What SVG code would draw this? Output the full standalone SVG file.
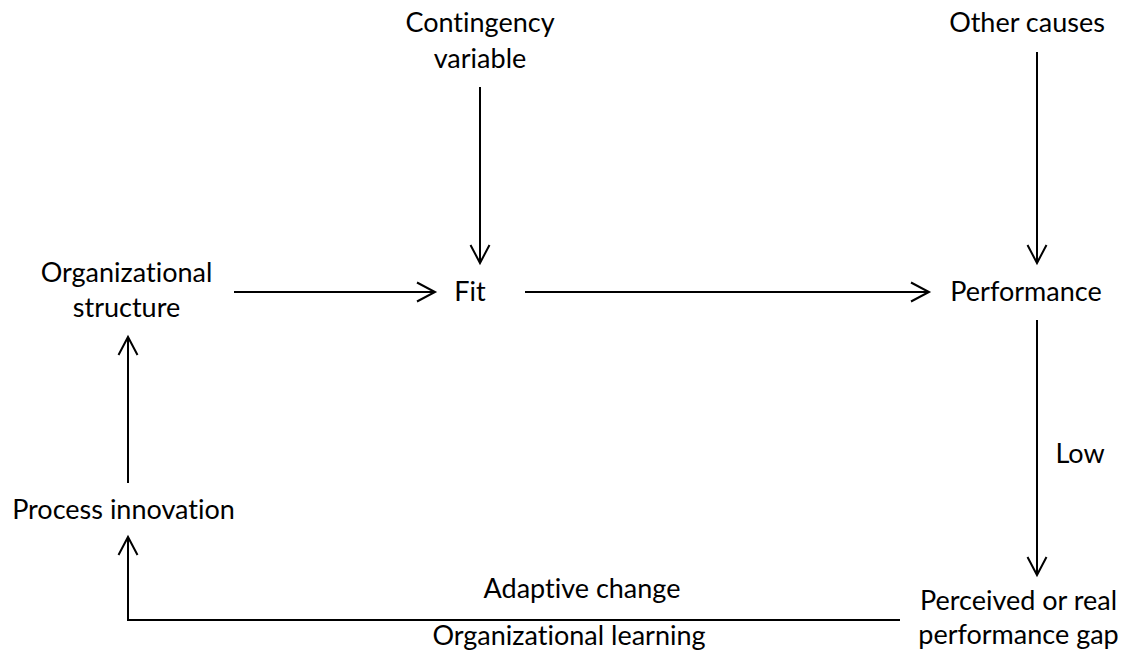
<svg xmlns="http://www.w3.org/2000/svg" width="1125" height="652" viewBox="0 0 1125 652">
  <style>
    text { font-family: Lato, "Open Sans", "Liberation Sans", sans-serif; font-size: 27px; fill: #000; text-anchor: middle; font-variant-ligatures: none; font-feature-settings: "liga" 0, "clig" 0; }
    .edge { fill: none; stroke: #000; stroke-width: 2; marker-end: url(#arrow); }
  </style>
  <defs>
    <!-- open V arrowhead -->
    <marker id="arrow" markerUnits="userSpaceOnUse" markerWidth="24" markerHeight="24" viewBox="-20 -12 24 24" refX="0" refY="0" orient="auto" overflow="visible">
      <path d="M-18,-9.5 L0,0 L-18,9.5" fill="none" stroke="#000" stroke-width="2"/>
    </marker>
  </defs>
  <rect width="1125" height="652" fill="#fff"/>

  <g id="connectors">
    <line class="edge" x1="480" y1="87" x2="480" y2="263"/>
    <line class="edge" x1="1037" y1="52" x2="1037" y2="263"/>
    <line class="edge" x1="234" y1="292" x2="435" y2="292"/>
    <line class="edge" x1="525" y1="292" x2="929" y2="292"/>
    <line class="edge" x1="1037" y1="320" x2="1037" y2="575"/>
    <line class="edge" x1="128" y1="483" x2="128" y2="337"/>
    <path class="edge" d="M900,620 H128 V537"/>
  </g>

  <g id="contingency">
    <text x="480" y="32">Contingency</text>
    <text x="480" y="68">variable</text>
  </g>
  <g id="other-causes">
    <text x="1027" y="32">Other causes</text>
  </g>
  <g id="org-structure">
    <text x="126.5" y="282">Organizational</text>
    <text x="126.5" y="317">structure</text>
  </g>
  <g id="fit">
    <text x="470" y="301">Fit</text>
  </g>
  <g id="performance">
    <text x="1026" y="301">Performance</text>
  </g>
  <g id="low-label">
    <text x="1080" y="463">Low</text>
  </g>
  <g id="process-innovation">
    <text x="123.5" y="519">Process innovation</text>
  </g>
  <g id="feedback-labels">
    <text x="582" y="598">Adaptive change</text>
    <text x="569" y="645">Organizational learning</text>
  </g>
  <g id="performance-gap">
    <text x="1018.5" y="610">Perceived or real</text>
    <text x="1018.5" y="644">performance gap</text>
  </g>
</svg>
